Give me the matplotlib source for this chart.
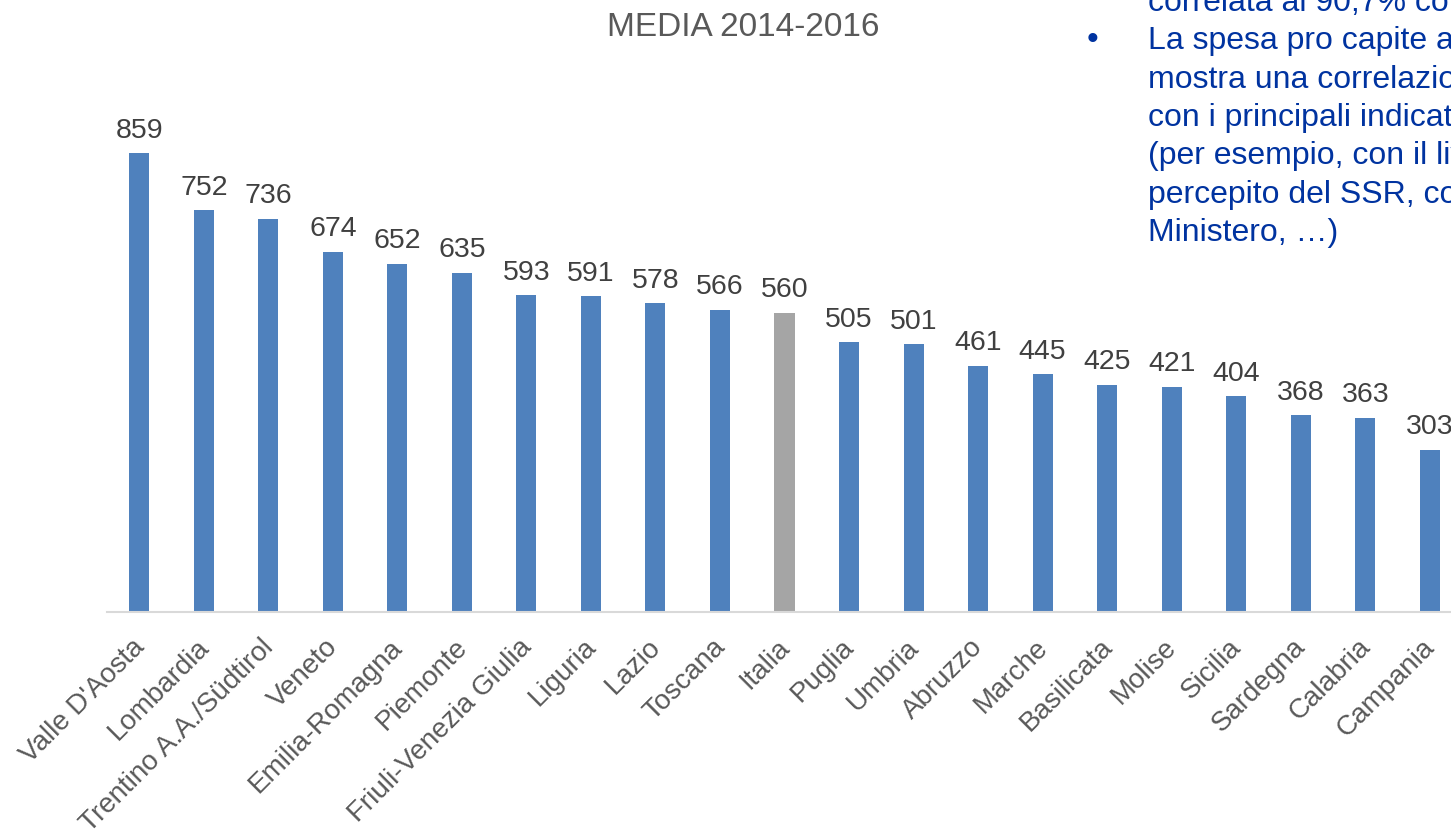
import numpy as np
import matplotlib
matplotlib.use("Agg")
from matplotlib import pyplot as plt
import matplotlib.transforms as mtransforms

plt.rcParams['font.family'] = ['Liberation Sans', 'DejaVu Sans']

regioni = ["Valle D'Aosta", "Lombardia", "Trentino A.A./Südtirol", "Veneto",
           "Emilia-Romagna", "Piemonte", "Friuli-Venezia Giulia", "Liguria",
           "Lazio", "Toscana", "Italia", "Puglia", "Umbria", "Abruzzo",
           "Marche", "Basilicata", "Molise", "Sicilia", "Sardegna",
           "Calabria", "Campania"]
spesa = [859, 752, 736, 674, 652, 635, 593, 591, 578, 566, 560,
         505, 501, 461, 445, 425, 421, 404, 368, 363, 303]

note_lines = ["correlata al 90,7% con",
              "La spesa pro capite a",
              "mostra una correlazione",
              "con i principali indicatori",
              "(per esempio, con il livello",
              "percepito del SSR, con",
              "Ministero, \u2026)"]

blu = '#4F81BD'
grigio = '#A5A5A5'
testo = '#595959'
colori = [grigio if r == "Italia" else blu for r in regioni]

W, H = 1451, 830
fig = plt.figure(figsize=(W / 100, H / 100), dpi=100)
# axes runs off the right edge like the cropped screenshot
ax = fig.add_axes([107 / W, (H - 612) / H, 1355 / W, 534 / H])

x = np.arange(len(regioni))
bars = ax.bar(x, spesa, width=0.31, color=colori)
ax.set_xlim(-0.5, len(regioni) - 0.5)
ax.set_ylim(0, 1000)

for b, v in zip(bars, spesa):
    ax.annotate(str(v), (b.get_x() + b.get_width() / 2, v), xytext=(0, 7),
                textcoords='offset points', ha='center', va='bottom',
                fontsize=20.5, color='#404040')

for s in ['top', 'right', 'left']:
    ax.spines[s].set_visible(False)
ax.spines['bottom'].set_color('#D9D9D9')
ax.spines['bottom'].set_linewidth(1.5)
ax.set_yticks([])
ax.set_xticks(x)
ax.set_xticklabels(regioni, rotation=45, ha='right', rotation_mode='anchor',
                   fontsize=20, color=testo)
ax.tick_params(axis='x', length=0, pad=16)
shift = mtransforms.ScaledTranslation(-8 / 100, 0, fig.dpi_scale_trans)
for lab in ax.get_xticklabels():
    lab.set_transform(lab.get_transform() + shift)

fig.text(743 / W, 1 - 28 / H, "MEDIA 2014-2016", ha='center', va='center',
         fontsize=24, color=testo)

# note box, cut by the right edge
y0 = 3
for i, riga in enumerate(note_lines):
    fig.text(1148 / W, 1 - (y0 + 38.3 * i) / H, riga, ha='left', va='center',
             fontsize=23, color='#0033A0')
fig.text(1087 / W, 1 - 40 / H, "\u2022", ha='left', va='center',
         fontsize=24, color='#0033A0')

fig.savefig("out.png", dpi=100)
